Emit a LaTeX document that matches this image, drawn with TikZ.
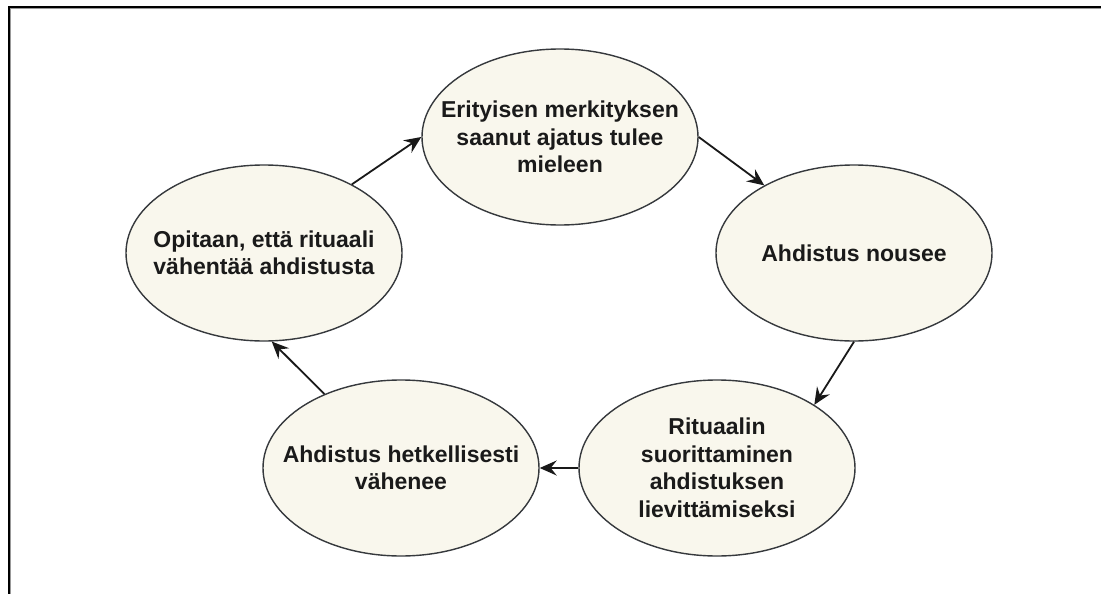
\documentclass[tikz,border=0pt]{standalone}
\usepackage{fontspec}
\setmainfont{Liberation Sans}
\usetikzlibrary{shapes.geometric,arrows.meta}
\definecolor{cfill}{HTML}{F9F7ED}
\definecolor{cstroke}{HTML}{36393D}
\definecolor{ctext}{HTML}{1A1A1A}
\tikzset{
  bubble/.style={ellipse, draw=cstroke, fill=cfill, line width=1.4pt,
    minimum width=276pt, minimum height=176pt, inner sep=0pt},
  bubbletext/.style={align=center, text=ctext, inner sep=0pt,
    font=\fontsize{23}{27.5}\selectfont\bfseries},
  link/.style={line width=1.8pt, draw=black!90,
    -{Stealth[length=17pt,width=15pt,inset=6pt]}},
  frame/.style={line width=2pt, black},
  frameshadow/.style={line width=1pt, black!40}
}
\begin{document}
\begin{tikzpicture}[x=1pt,y=-1pt]
\useasboundingbox (0,0) rectangle (1101,594);
\fill[white] (0,0) rectangle (1101,594);
% frame (top and left edges only)
\coordinate (f0) at (9,7);
\coordinate (f1) at (1101,7);
\coordinate (f2) at (9,594);
\draw[frameshadow] (10.5,8.5) -- (1101,8.5);
\draw[frameshadow] (10.5,8.5) -- (10.5,594);
\draw[frame] (f1) -- (f0) -- (f2);
% nodes
\node[bubble] (A) at (560,137) {};
\node[bubble] (B) at (854,253) {};
\node[bubble] (C) at (717,468) {};
\node[bubble] (D) at (401,468) {};
\node[bubble] (E) at (264,253) {};
\node[bubbletext] (At) at (A) {Erityisen merkityksen\\saanut ajatus tulee\\mieleen};
\node[bubbletext] (Bt) at (B) {Ahdistus nousee};
\node[bubbletext] (Ct) at (C) {Rituaalin\\suorittaminen\\ahdistuksen\\lievittämiseksi};
\node[bubbletext] (Dt) at (D) {Ahdistus hetkellisesti\\vähenee};
\node[bubbletext] (Et) at (E) {Opitaan, että rituaali\\vähentää ahdistusta};
% connectors
\draw[link] (A.east) -- (B.143);
\draw[link] (B.south) -- (C.33);
\draw[link] (C.west) -- (D.east);
\draw[link] (D.136.5) -- (E.275);
\draw[link] (E.38) -- (A.west);
\end{tikzpicture}
\end{document}
